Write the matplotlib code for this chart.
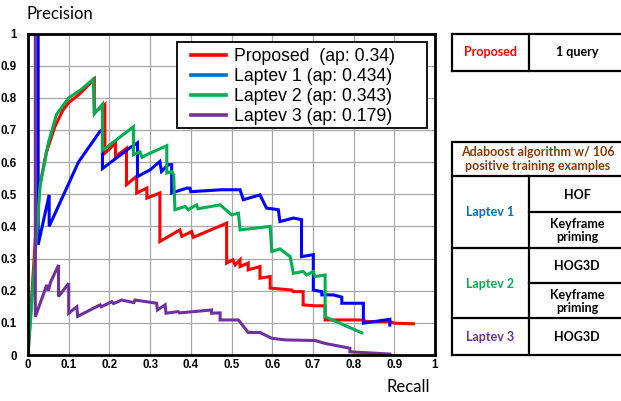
import matplotlib
matplotlib.use("Agg")
import matplotlib.pyplot as plt
from matplotlib.lines import Line2D
from matplotlib.patches import Rectangle

W, H = 621, 401

# ---------------- data ----------------
proposed_r = [0, 0.025, 0.045, 0.066, 0.085, 0.10, 0.125, 0.163, 0.163, 0.189, 0.189, 0.215, 0.215,
              0.242, 0.242, 0.267, 0.267, 0.292, 0.292, 0.324, 0.324, 0.373, 0.378, 0.402, 0.406,
              0.488, 0.488, 0.503, 0.509, 0.521, 0.521, 0.541, 0.541, 0.570, 0.570, 0.595, 0.595,
              0.648, 0.652, 0.676, 0.676, 0.705, 0.730, 0.730, 0.824, 0.830, 0.889, 0.900, 0.947]
proposed_p = [0, 0.50, 0.63, 0.71, 0.76, 0.785, 0.81, 0.858, 0.755, 0.78, 0.628, 0.659, 0.617,
              0.643, 0.53, 0.556, 0.504, 0.519, 0.488, 0.504, 0.353, 0.389, 0.369, 0.384, 0.366,
              0.41, 0.286, 0.296, 0.28, 0.296, 0.275, 0.286, 0.265, 0.275, 0.239, 0.244, 0.208,
              0.202, 0.197, 0.197, 0.156, 0.153, 0.153, 0.109, 0.109, 0.104, 0.104, 0.099, 0.097]

laptev1_r = [0.025, 0.025, 0.052, 0.052, 0.124, 0.177, 0.183, 0.183, 0.25, 0.269, 0.269, 0.30,
             0.324, 0.328, 0.345, 0.353, 0.353, 0.39, 0.398, 0.40, 0.476, 0.521, 0.529, 0.570,
             0.586, 0.615, 0.619, 0.652, 0.672, 0.672, 0.701, 0.701, 0.722, 0.722, 0.75, 0.771,
             0.771, 0.824, 0.824, 0.889, 0.889]
laptev1_p = [1.0, 0.343, 0.498, 0.40, 0.60, 0.696, 0.70, 0.58, 0.644, 0.66, 0.555, 0.576,
             0.602, 0.571, 0.592, 0.592, 0.504, 0.519, 0.519, 0.508, 0.514, 0.514, 0.483, 0.498,
             0.457, 0.452, 0.415, 0.426, 0.421, 0.306, 0.312, 0.202, 0.197, 0.187, 0.187, 0.18,
             0.161, 0.161, 0.099, 0.111, 0.093]

laptev2_r = [0, 0.03, 0.05, 0.07, 0.10, 0.13, 0.16, 0.163, 0.183, 0.183, 0.259, 0.259, 0.275,
             0.28, 0.295, 0.341, 0.341, 0.353, 0.358, 0.361, 0.386, 0.394, 0.414, 0.418, 0.472,
             0.50, 0.517, 0.521, 0.595, 0.599, 0.619, 0.644, 0.652, 0.676, 0.685, 0.701, 0.705,
             0.730, 0.730, 0.820]
laptev2_p = [0, 0.53, 0.66, 0.748, 0.80, 0.825, 0.858, 0.75, 0.78, 0.636, 0.71, 0.623, 0.632,
             0.615, 0.625, 0.651, 0.566, 0.571, 0.56, 0.452, 0.462, 0.452, 0.467, 0.455, 0.467,
             0.436, 0.441, 0.389, 0.40, 0.322, 0.33, 0.306, 0.254, 0.26, 0.249, 0.26, 0.244,
             0.249, 0.119, 0.069]

laptev3_r = [0.018, 0.018, 0.046, 0.05, 0.055, 0.075, 0.075, 0.10, 0.10, 0.12, 0.122, 0.177,
             0.18, 0.206, 0.21, 0.23, 0.26, 0.263, 0.316, 0.318, 0.337, 0.339, 0.369, 0.372,
             0.451, 0.451, 0.472, 0.472, 0.517, 0.541, 0.57, 0.599, 0.631, 0.705, 0.73, 0.791,
             0.791, 0.889]
laptev3_p = [1.0, 0.119, 0.218, 0.20, 0.225, 0.28, 0.182, 0.223, 0.13, 0.15, 0.12, 0.156,
             0.15, 0.166, 0.16, 0.171, 0.163, 0.171, 0.161, 0.14, 0.156, 0.13, 0.135, 0.131,
             0.14, 0.13, 0.131, 0.109, 0.109, 0.07, 0.07, 0.052, 0.047, 0.045, 0.036, 0.021,
             0.01, 0.003]

labels = ["Proposed  (ap: 0.34)", "Laptev 1 (ap: 0.434)", "Laptev 2 (ap: 0.343)", "Laptev 3 (ap: 0.179)"]
tick_vals = [0, 0.1, 0.2, 0.3, 0.4, 0.5, 0.6, 0.7, 0.8, 0.9, 1]
tick_labels = ["0", "0.1", "0.2", "0.3", "0.4", "0.5", "0.6", "0.7", "0.8", "0.9", "1"]

line_colors = ["#FF0000", "#0000FF", "#00B050", "#7030A0"]
legend_colors = ["#FF0000", "#0070C0", "#00B050", "#7030A0"]

# ---------------- figure ----------------
fig = plt.figure(figsize=(W / 100, H / 100), dpi=100)


def fx(x):
    return x / W


def fy(y):
    return 1 - y / H


ax = fig.add_axes([fx(28), fy(355), fx(435) - fx(28), fy(33.5) - fy(355)])

series = [(proposed_r, proposed_p), (laptev1_r, laptev1_p), (laptev2_r, laptev2_p), (laptev3_r, laptev3_p)]
for (r, p), c in zip(series, line_colors):
    ax.plot(r, p, color=c, lw=2.2, solid_joinstyle="miter", clip_on=True)

ax.set_xlim(0, 1)
ax.set_ylim(0, 1)
ax.set_xticks(tick_vals)
ax.set_yticks(tick_vals)
ax.set_xticklabels(tick_labels)
ax.set_yticklabels(tick_labels)
ax.grid(True, color="#A8A8A8", lw=0.9)
ax.set_axisbelow(True)
for s in ax.spines.values():
    s.set_linewidth(2.0)
    s.set_color("black")
ax.tick_params(axis="both", length=0, labelsize=8.3)
ax.tick_params(axis="y", pad=8)
ax.tick_params(axis="x", pad=3)
for t in ax.get_xticklabels() + ax.get_yticklabels():
    t.set_fontweight("bold")
    t.set_family("Liberation Sans")

# legend: frame drawn separately to match the wide box
fig.add_artist(Rectangle((fx(177), fy(128)), fx(427) - fx(177), fy(42) - fy(128),
                         transform=fig.transFigure, facecolor="white", edgecolor="black",
                         lw=1.3, zorder=5))
handles = [Line2D([0], [0], color=c, lw=2.6) for c in legend_colors]
leg = fig.legend(handles, labels, loc="upper left", bbox_to_anchor=(fx(191), fy(48)),
                 prop={"family": "Liberation Sans", "size": 12.7}, frameon=False,
                 handlelength=2.0, handletextpad=0.45, labelspacing=0.17,
                 borderpad=0, borderaxespad=0)
leg.set_zorder(6)

fig.text(fx(27), fy(14), "Precision", family="Lato", fontsize=12, va="center", ha="left")
fig.text(fx(387), fy(386.5), "Recall", family="Lato", fontsize=12, va="center", ha="left")

# ---------------- tables ----------------
def hline(x0, x1, y, lw=1.6):
    fig.add_artist(Line2D([fx(x0), fx(x1)], [fy(y), fy(y)], color="black", lw=lw,
                          transform=fig.transFigure))


def vline(x, y0, y1, lw=1.6):
    fig.add_artist(Line2D([fx(x), fx(x)], [fy(y0), fy(y1)], color="black", lw=lw,
                          transform=fig.transFigure))


def label(x, y, s, color="black"):
    fig.text(fx(x), fy(y), s, ha="center", va="center", family="Lato", fontweight="bold",
             fontsize=9, color=color, linespacing=1.15)


L, M, R = 451.7, 529.3, 630
# table 1
hline(L, R, 34)
hline(L, R, 70.7)
vline(L, 34, 70.7)
vline(M, 34, 70.7)
label(490.5, 52.5, "Proposed", "#FF0000")
label(577, 52.5, "1 query")

# table 2
T, HB = 141.7, 176
hline(L, R, T)
hline(L, R, HB)
hline(L, R, 248.3)
hline(L, R, 318.3)
hline(L, R, 355)
hline(M, R, 212.3)
hline(M, R, 283.3)
vline(L, T, 355)
vline(M, HB, 355)
label(537.5, 159, "Adaboost algorithm w/ 106\npositive training examples", "#843C0C")
label(490.3, 212.5, "Laptev 1", "#0070C0")
label(490.3, 284, "Laptev 2", "#00B050")
label(490.3, 337, "Laptev 3", "#7030A0")
label(577, 195, "HOF")
label(577, 230.5, "Keyframe\npriming")
label(577, 266, "HOG3D")
label(577, 301.5, "Keyframe\npriming")
label(577, 337, "HOG3D")

fig.savefig("out.png", dpi=100)
